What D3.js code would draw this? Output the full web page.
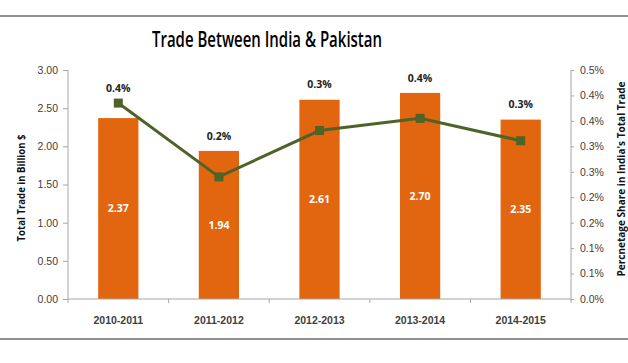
<!DOCTYPE html>
<html>
<head>
<meta charset="utf-8">
<script src="https://cdn.jsdelivr.net/npm/d3@7"></script>
<style>
    body { margin: 0; background: #fff; }
    svg { display: block; font-family: 'Open Sans', sans-serif; }
    .tick text { fill: #404040; font-size: 10.5px; }
</style>
</head>
<body>
<div id="chart"></div>
<script>
var years = ['2010-2011', '2011-2012', '2012-2013', '2013-2014', '2014-2015'];
var trade = [2.37, 1.94, 2.61, 2.70, 2.35];          // billion $
var share = [0.385, 0.24, 0.331, 0.355, 0.311];      // % of India's total trade
var leftTicks = [0, 0.5, 1, 1.5, 2, 2.5, 3];
var rightTicks = [0, 0.05, 0.1, 0.15, 0.2, 0.25, 0.3, 0.35, 0.4, 0.45];
var rightTickLabels = ['0.0%', '0.1%', '0.1%', '0.2%', '0.2%', '0.3%', '0.3%', '0.4%', '0.4%', '0.5%'];

var width = 628, height = 363;
var margin = {top: 70, right: 57, bottom: 64, left: 68};

var svg = d3.select('#chart')
    .append('svg')
    .attr('width', width)
    .attr('height', height);

// grey rules top and bottom
svg.append('line')
    .attr('x1', 0).attr('x2', width)
    .attr('y1', 16).attr('y2', 16)
    .attr('stroke', '#6b6b6b').attr('stroke-width', 1.3);
svg.append('line')
    .attr('x1', 0).attr('x2', width)
    .attr('y1', 339).attr('y2', 339)
    .attr('stroke', '#6b6b6b').attr('stroke-width', 1.3);

svg.append('text')
    .attr('x', 267)
    .attr('y', 47)
    .attr('text-anchor', 'middle')
    .attr('font-size', '21px')
    .attr('font-weight', 600)
    .attr('fill', '#000')
    .attr('textLength', 230)
    .attr('lengthAdjust', 'spacingAndGlyphs')
    .text('Trade Between India & Pakistan');

var x = d3.scaleBand()
    .domain(years)
    .range([margin.left, width - margin.right])
    .paddingInner(0.6)
    .paddingOuter(0.3);

var yL = d3.scaleLinear()
    .domain([0, 3])
    .range([height - margin.bottom, margin.top]);

var yR = d3.scaleLinear()
    .domain([0, 0.45])
    .range([height - margin.bottom, margin.top]);

var data = years.map(function(d, i) {
    return {year: d, trade: trade[i], share: share[i]};
});

// bars
svg.append('g')
    .selectAll('rect')
    .data(data)
    .enter()
    .append('rect')
    .attr('x', function(d) { return x(d.year); })
    .attr('y', function(d) { return yL(d.trade); })
    .attr('width', x.bandwidth())
    .attr('height', function(d) { return yL(0) - yL(d.trade); })
    .attr('fill', '#e2650f');

svg.append('g')
    .selectAll('text')
    .data(data)
    .enter()
    .append('text')
    .attr('x', function(d) { return x(d.year) + x.bandwidth() / 2; })
    .attr('y', function(d) { return (yL(d.trade) + yL(0)) / 2; })
    .attr('dy', '0.35em')
    .attr('text-anchor', 'middle')
    .attr('font-size', '10.5px')
    .attr('font-weight', 'bold')
    .attr('fill', '#fff')
    .text(function(d) { return d3.format('.2f')(d.trade); });

// axes
var axisL = d3.axisLeft(yL)
    .tickValues(leftTicks)
    .tickFormat(d3.format('.2f'))
    .tickSize(5)
    .tickPadding(5);

var axisR = d3.axisRight(yR)
    .tickValues(rightTicks)
    .tickFormat(function(d, i) { return rightTickLabels[i]; })
    .tickSize(3)
    .tickPadding(6);

var axisX = d3.axisBottom(x)
    .tickSize(0)
    .tickPadding(18);

function styleAxis(g) {
    g.select('.domain').attr('stroke', '#a6a6a6');
    g.selectAll('.tick line').attr('stroke', '#a6a6a6');
}

var gx = svg.append('g')
    .attr('transform', 'translate(0,' + yL(0) + ')')
    .call(axisX)
    .call(styleAxis);
gx.select('.domain').attr('d', 'M' + margin.left + ',0H' + (width - margin.right));
gx.selectAll('.tick text')
    .attr('font-weight', 'bold')
    .attr('font-size', '10px')
    .attr('fill', '#1a1a1a');

// category separators
var bounds = d3.range(years.length + 1).map(function(i) {
    return margin.left + i * x.step();
});
gx.selectAll('.sep')
    .data(bounds)
    .enter()
    .append('line')
    .attr('class', 'sep')
    .attr('x1', function(d) { return d; })
    .attr('x2', function(d) { return d; })
    .attr('y1', 0)
    .attr('y2', 4)
    .attr('stroke', '#a6a6a6');

svg.append('g')
    .attr('transform', 'translate(' + margin.left + ',0)')
    .call(axisL)
    .call(styleAxis)
    .select('.domain').attr('d', 'M0,' + yL(0) + 'V' + yL(3));

svg.append('g')
    .attr('transform', 'translate(' + (width - margin.right) + ',0)')
    .call(axisR)
    .call(styleAxis)
    .select('.domain').attr('d', 'M0,' + yR(0) + 'V' + yR(0.45));

// axis titles
svg.append('text')
    .attr('transform', 'translate(21,' + 188 + ') rotate(-90)')
    .attr('text-anchor', 'middle')
    .attr('dy', '0.35em')
    .attr('font-size', '10.5px')
    .attr('font-weight', 'bold')
    .attr('fill', '#111')
    .attr('textLength', 107)
    .attr('lengthAdjust', 'spacingAndGlyphs')
    .text('Total Trade in Billion $');

svg.append('text')
    .attr('transform', 'translate(621,' + 179 + ') rotate(-90)')
    .attr('text-anchor', 'middle')
    .attr('dy', '0.35em')
    .attr('font-size', '10.5px')
    .attr('font-weight', 'bold')
    .attr('fill', '#111')
    .attr('textLength', 195)
    .attr('lengthAdjust', 'spacingAndGlyphs')
    .text("Percnetage Share in India's Total Trade");

// share line
var line = d3.line()
    .x(function(d) { return x(d.year) + x.bandwidth() / 2; })
    .y(function(d) { return yR(d.share); });

svg.append('path')
    .datum(data)
    .attr('d', line)
    .attr('fill', 'none')
    .attr('stroke', '#4f6228')
    .attr('stroke-width', 3);

svg.append('g')
    .selectAll('rect')
    .data(data)
    .enter()
    .append('rect')
    .attr('x', function(d) { return x(d.year) + x.bandwidth() / 2 - 4.5; })
    .attr('y', function(d) { return yR(d.share) - 4.5; })
    .attr('width', 9)
    .attr('height', 9)
    .attr('fill', '#4f6228');

svg.append('g')
    .selectAll('text')
    .data(data)
    .enter()
    .append('text')
    .attr('x', function(d) { return x(d.year) + x.bandwidth() / 2; })
    .attr('y', function(d) { return Math.min(yL(d.trade), yR(d.share)) - 15; })
    .attr('dy', '0.35em')
    .attr('text-anchor', 'middle')
    .attr('font-size', '10.5px')
    .attr('font-weight', 'bold')
    .attr('fill', '#222')
    .text(function(d) { return d3.format('.1f')(d.share) + '%'; });
</script>
</body>
</html>
